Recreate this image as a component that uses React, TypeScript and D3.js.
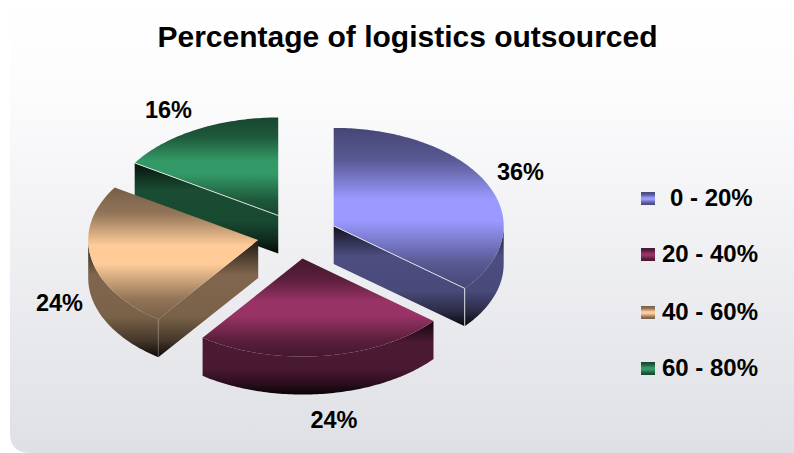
import React from "react";
import * as d3 from "d3";

const categories = ["0 - 20%", "20 - 40%", "40 - 60%", "60 - 80%"];
const shares = [36, 24, 24, 16];
const baseColors = ["#9999ff", "#993366", "#ffcc99", "#339966"];
const sliceLabels = ["36%", "24%", "24%", "16%"];
const labelAnchors: [number, number][] = [[520.5, 180], [334, 428], [59.5, 311], [168.5, 118]];
const legendRows = [198, 254, 312, 368];
const legendTextX = [670, 662, 662, 662];

const W = 794;
const H = 453;
const CX = 297.5;
const CY = 235.7;
const RX = 170;
const RY = 98;
const SQUASH = RY / RX;
const EXPLODE = 40;
const DEPTH = 38;

type Pt = [number, number];

function shade(color: string, f: number) {
  const c = d3.rgb(color);
  return d3.rgb(c.r * f, c.g * f, c.b * f).formatHex();
}

const topStops: [number, number][] = [[0, 0.46], [0.2, 0.58], [0.44, 1], [0.58, 1], [0.84, 0.58], [1, 0.46]];
const wallStops: [number, number][] = [[0, 0.12], [0.3, 0.5], [0.65, 0.48], [0.85, 0.28], [1, 0.05]];

const pieAngles = d3.pie<number>().sort(null).value((d) => d)(shares);
const line = d3.line<Pt>();

export default function App() {
  const slices = pieAngles.map((s) => {
    const mid = (s.startAngle + s.endAngle) / 2;
    const ox = CX + EXPLODE * Math.sin(mid);
    const oy = CY - EXPLODE * SQUASH * Math.cos(mid);
    const at = (a: number): Pt => [ox + RX * Math.sin(a), oy - RY * Math.cos(a)];
    const down = (p: Pt): Pt => [p[0], p[1] + DEPTH];
    const arcPts = (a0: number, a1: number) => {
      const n = Math.max(2, Math.ceil((a1 - a0) * 60));
      return d3.range(n + 1).map((k) => at(a0 + ((a1 - a0) * k) / n));
    };
    const apex: Pt = [ox, oy];
    const top = line([apex, ...arcPts(s.startAngle, s.endAngle)])! + "Z";

    // The rim shows on the front half only; a radial cut shows when its normal points down.
    let wall = "";
    const w0 = Math.max(s.startAngle, Math.PI / 2);
    const w1 = Math.min(s.endAngle, (3 * Math.PI) / 2);
    if (w1 > w0) {
      const rim = arcPts(w0, w1);
      wall += line([...rim, ...rim.slice().reverse().map(down)])! + "Z";
    }
    const cutAngles: number[] = [];
    if (Math.cos(s.startAngle - Math.PI / 2) < -1e-6) cutAngles.push(s.startAngle);
    if (Math.cos(s.endAngle + Math.PI / 2) < -1e-6) cutAngles.push(s.endAngle);
    cutAngles.forEach((a) => {
      const c = at(a);
      wall += line([apex, c, down(c), down(apex)])! + "Z";
    });
    return { apex, top, wall, at, down, cutAngles };
  });

  // Farthest slices are painted first so nearer ones overlap them.
  const paintOrder = [3, 2, 0, 1];

  const edge = (k: string, a: Pt, b: Pt, color: string, op: number, w = 1) => (
    <line key={k} x1={a[0]} y1={a[1]} x2={b[0]} y2={b[1]} stroke={color} strokeOpacity={op} strokeWidth={w} />
  );

  return (
    <svg width={W} height={H} viewBox={`0 0 ${W} ${H}`} style={{ position: "absolute", left: 0, top: 0, display: "block" }}>
      <defs>
        <linearGradient id="panel" x1="0" y1="0" x2="0" y2="1">
          <stop offset="0" stopColor="#ffffff" />
          <stop offset="0.2" stopColor="#fcfcfd" />
          <stop offset="1" stopColor="#dfe0e5" />
        </linearGradient>
        {baseColors.map((c, i) => (
          <React.Fragment key={c}>
            <linearGradient id={`top${i}`} x1="0" y1="0" x2="0" y2="1">
              {topStops.map(([o, f]) => <stop key={o} offset={o} stopColor={shade(c, f)} />)}
            </linearGradient>
            <linearGradient id={`wall${i}`} x1="0" y1="0" x2="0" y2="1">
              {wallStops.map(([o, f]) => <stop key={o} offset={o} stopColor={shade(c, f)} />)}
            </linearGradient>
          </React.Fragment>
        ))}
      </defs>
      <rect width={W} height={H} fill="#ffffff" />
      <path d={`M10 0H${W}V${H}H30Q10 ${H} 10 ${H - 20}Z`} fill="url(#panel)" />

      {paintOrder.map((idx) => {
        const s = slices[idx];
        const cut = s.cutAngles.map((a) => s.at(a));
        return (
          <g key={idx}>
            <path d={s.wall} fill={`url(#wall${idx})`} />
            <path d={s.top} fill={`url(#top${idx})`} />
            {idx === 0 && edge("a", s.apex, cut[0], "#ffffff", 0.8)}
            {idx === 0 && edge("b", cut[0], s.down(cut[0]), "#ffffff", 0.85)}
            {idx === 3 && edge("c", s.apex, cut[0], "#ffffff", 0.8)}
            {idx === 2 && edge("d", cut[0], s.down(cut[0]), "#ffffff", 0.3)}
          </g>
        );
      })}

      <g fontFamily="'Liberation Sans', Arial, sans-serif" fontWeight="700" fill="#000000">
        <text x={407.5} y={47} textAnchor="middle" fontSize={30}>Percentage of logistics outsourced</text>
        {sliceLabels.map((t, i) => (
          <text key={i} x={labelAnchors[i][0]} y={labelAnchors[i][1]} textAnchor="middle" fontSize={23.5}>{t}</text>
        ))}
        {categories.map((c, i) => (
          <text key={c} x={legendTextX[i]} y={legendRows[i] + 8} fontSize={24}>{c}</text>
        ))}
      </g>
      {baseColors.map((c, i) => (
        <rect key={c} x={641} y={legendRows[i] - 6} width={14} height={13} fill={`url(#top${i})`} />
      ))}
    </svg>
  );
}
